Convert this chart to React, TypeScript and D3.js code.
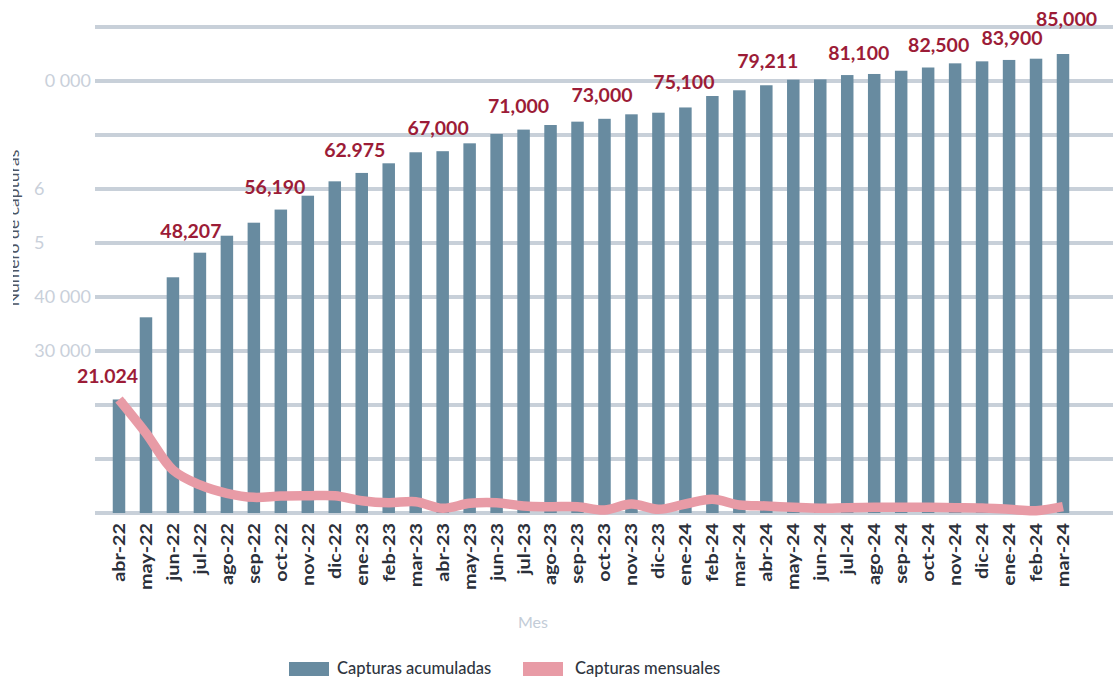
import React from "react";
import * as d3 from "d3";

// ---------- data ----------
const months = [
  "abr-22", "may-22", "jun-22", "jul-22", "ago-22", "sep-22", "oct-22", "nov-22", "dic-22",
  "ene-23", "feb-23", "mar-23", "abr-23", "may-23", "jun-23", "jul-23", "ago-23", "sep-23",
  "oct-23", "nov-23", "dic-23", "ene-24", "feb-24", "mar-24", "abr-24", "may-24", "jun-24",
  "jul-24", "ago-24", "sep-24", "oct-24", "nov-24", "dic-24", "ene-24", "feb-24", "mar-24",
];

const cumulative = [
  21024, 36240, 43650, 48207, 51350, 53760, 56190, 58760, 61420,
  62975, 64760, 66800, 67000, 68460, 70185, 71000, 71850, 72470,
  73000, 73830, 74130, 75100, 77220, 78280, 79211, 80240, 80300,
  81100, 81300, 81900, 82500, 83270, 83640, 83900, 84130, 85000,
];

const monthly = [
  21024, 14800, 7960, 5190, 3640, 2900, 3150, 3200, 3200,
  2280, 1900, 2100, 870, 1790, 1900, 1300, 1170, 1170,
  550, 1670, 680, 1670, 2530, 1480, 1300, 1050, 870,
  990, 1050, 1050, 1050, 990, 930, 680, 430, 1170,
];

const labelIndex = [0, 3, 6, 9, 12, 15, 18, 21, 24, 27, 30, 33, 35];
const labelText = [
  "21.024", "48,207", "56,190", "62.975", "67,000", "71,000", "73,000",
  "75,100", "79,211", "81,100", "82,500", "83,900", "85,000",
];

const yTicks = [0, 10000, 20000, 30000, 40000, 50000, 60000, 70000, 80000, 90000];
const yTickLabels = ["", "", "", "30 000", "40 000", "5", "6", "", "0 000", ""];

const seriesNames = ["Capturas acumuladas", "Capturas mensuales"];
const yTitle = "Número de capturas";
const xTitle = "Mes";

// ---------- layout / style ----------
const W = 1113;
const H = 680;
const gridLeft = 95;
const gridRight = 1113;
const barW = 12.5;
const labelDx = [-11.5, -9, -6, -7, -4.5, -5, -2.5, -1.5, 1.5, 11.5, 10.5, 3, 3.5];
const labelDy = [-16, -15, -15.5, -16, -16, -16.5, -16.5, -18, -17, -15, -15.5, -15, -28];

const C_BAR = "#688ba0";
const C_LINE = "#e89ba6";
const C_GRID = "#c8d0d9";
const C_LABEL = "#9c1c37";
const C_TICK = "#c9d0da";
const C_XTICK = "#2b303a";
const FONT = "Lato, 'Open Sans', sans-serif";

export default function App() {
  const x = d3.scalePoint<number>().domain(d3.range(months.length)).range([119, 1063]);
  const y = d3.scaleLinear().domain([0, 90000]).range([513, 27]);

  const line = d3
    .line<number>()
    .x((_, i) => x(i) as number)
    .y((v) => y(v))
    .curve(d3.curveCatmullRom.alpha(0.5));

  return (
    <svg
      width={W}
      height={H}
      style={{ position: "absolute", left: 0, top: 0, background: "#fff" }}
      fontFamily={FONT}
    >
      <defs>
        <clipPath id="ytclip">
          <rect x={13} y={0} width={10} height={H} />
        </clipPath>
      </defs>

      {/* gridlines */}
      {yTicks.map((t) => (
        <line key={t} x1={gridLeft} x2={gridRight} y1={y(t)} y2={y(t)} stroke={C_GRID} strokeWidth={4} />
      ))}

      {/* y tick labels */}
      {yTicks.map((t, i) =>
        yTickLabels[i] ? (
          <text
            key={"yl" + t}
            x={yTickLabels[i].length < 3 ? 34 : 91}
            y={y(t)}
            dy="0.36em"
            textAnchor={yTickLabels[i].length < 3 ? "start" : "end"}
            fontSize={18}
            fill={C_TICK}
          >
            {yTickLabels[i]}
          </text>
        ) : null
      )}

      {/* y title (clipped) */}
      <g clipPath="url(#ytclip)">
        <text
          transform={`translate(19,228) rotate(-90) scale(1.1,1)`}
          textAnchor="middle"
          fontSize={16}
          fill="#4d5563"
        >
          {yTitle}
        </text>
      </g>

      {/* bars */}
      {cumulative.map((v, i) => (
        <rect
          key={"b" + i}
          x={(x(i) as number) - barW / 2}
          y={y(v)}
          width={barW}
          height={y(0) - y(v)}
          fill={C_BAR}
        />
      ))}

      {/* monthly line */}
      <path d={line(monthly) || ""} fill="none" stroke={C_LINE} strokeWidth={9.5} strokeLinejoin="round" />

      {/* value labels */}
      {labelIndex.map((idx, k) => (
        <text
          key={"lab" + k}
          x={(x(idx) as number) + labelDx[k]}
          y={y(cumulative[idx]) + labelDy[k]}
          textAnchor="middle"
          fontSize={19.5}
          fontWeight="bold"
          fill={C_LABEL}
        >
          {labelText[k]}
        </text>
      ))}

      {/* x tick labels */}
      {months.map((m, i) => (
        <text
          key={"xt" + i}
          transform={`translate(${x(i)},523) rotate(-90) scale(1.2,1)`}
          textAnchor="end"
          dy="0.36em"
          fontSize={16.5}
          fontWeight="bold"
          fill={C_XTICK}
        >
          {m}
        </text>
      ))}

      {/* x title */}
      <text x={533} y={628} textAnchor="middle" fontSize={16} fill="#c3ccd7">
        {xTitle}
      </text>

      {/* legend */}
      <rect x={289} y={662} width={40} height={14} fill={C_BAR} />
      <text x={337} y={674} fontSize={16.5} fontWeight={500} fill="#2f3540">
        {seriesNames[0]}
      </text>
      <rect x={523} y={662} width={40} height={14} fill={C_LINE} />
      <text x={575} y={674} fontSize={16.5} fontWeight={500} fill="#2f3540">
        {seriesNames[1]}
      </text>
    </svg>
  );
}
